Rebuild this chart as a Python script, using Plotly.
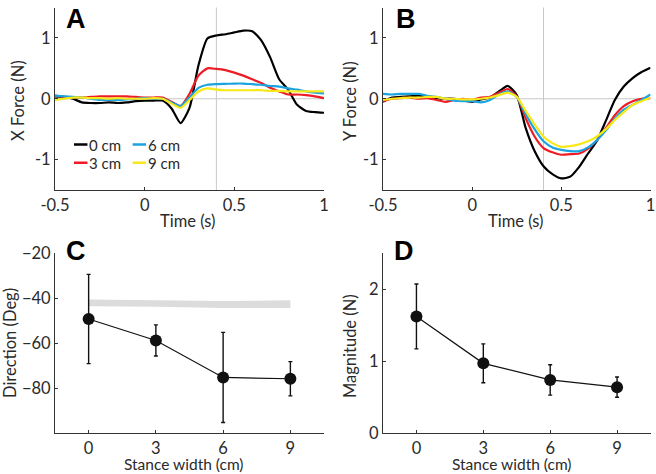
import plotly.graph_objects as go

# ---------------- data ----------------
time_s = [-0.5, -0.45, -0.4, -0.35, -0.3, -0.25, -0.2, -0.15, -0.1, -0.05, 0.0,
          0.05, 0.1, 0.15, 0.2, 0.25, 0.3, 0.35, 0.4, 0.45, 0.5, 0.55, 0.6,
          0.65, 0.7, 0.75, 0.8, 0.85, 0.9, 0.95, 1.0]

stance_labels = ["0 cm", "3 cm", "6 cm", "9 cm"]

xforce_0cm = [0.04, 0.03, 0.0, -0.06, -0.07, -0.07, -0.06, -0.07, -0.06, -0.04, -0.03,
              -0.03, -0.03, -0.16, -0.40, -0.15, 0.55, 0.99, 1.04, 1.06, 1.09, 1.12, 1.11,
              0.96, 0.68, 0.32, 0.15, -0.10, -0.20, -0.22, -0.23]
xforce_3cm = [0.05, 0.03, 0.02, 0.02, 0.03, 0.04, 0.04, 0.04, 0.04, 0.03, 0.02,
              0.02, 0.02, -0.05, -0.12, 0.08, 0.38, 0.50, 0.49, 0.47, 0.43, 0.38, 0.32,
              0.26, 0.18, 0.12, 0.07, 0.07, 0.06, 0.04, 0.01]
xforce_6cm = [0.05, 0.04, 0.03, 0.02, 0.0, -0.02, -0.02, -0.02, -0.01, 0.0, 0.01,
              0.0, 0.0, -0.06, -0.12, 0.02, 0.18, 0.23, 0.24, 0.245, 0.25, 0.25, 0.24,
              0.23, 0.21, 0.20, 0.17, 0.15, 0.12, 0.10, 0.09]
xforce_9cm = [-0.02, 0.0, 0.02, 0.02, 0.01, 0.01, 0.0, 0.01, 0.0, 0.0, 0.0,
              0.01, 0.0, -0.08, -0.15, -0.02, 0.12, 0.17, 0.15, 0.14, 0.14, 0.14, 0.14,
              0.14, 0.13, 0.13, 0.12, 0.12, 0.12, 0.12, 0.12]

yforce_0cm = [-0.05, 0.02, 0.03, 0.04, 0.05, 0.03, 0.01, 0.0, 0.0, -0.03, -0.05,
              -0.01, 0.02, 0.12, 0.21, 0.06, -0.48, -0.86, -1.11, -1.24, -1.31, -1.28, -1.12,
              -0.90, -0.69, -0.36, -0.02, 0.20, 0.34, 0.44, 0.51]
yforce_3cm = [-0.04, 0.0, 0.01, 0.02, 0.0, 0.01, -0.02, -0.05, -0.02, 0.0, -0.02,
              0.02, 0.03, 0.10, 0.16, 0.04, -0.32, -0.62, -0.81, -0.88, -0.92, -0.91, -0.90,
              -0.82, -0.68, -0.48, -0.27, -0.12, -0.04, 0.0, 0.01]
yforce_6cm = [0.08, 0.07, 0.08, 0.08, 0.08, 0.05, 0.03, 0.0, -0.03, -0.04, -0.04,
              -0.06, -0.02, 0.07, 0.12, 0.03, -0.25, -0.50, -0.70, -0.80, -0.84, -0.86, -0.86,
              -0.80, -0.68, -0.52, -0.33, -0.18, -0.10, -0.02, 0.07]
yforce_9cm = [-0.02, 0.0, 0.01, 0.02, 0.02, 0.03, 0.03, 0.0, 0.0, -0.01, -0.01,
              0.0, 0.02, 0.06, 0.10, 0.03, -0.20, -0.42, -0.62, -0.73, -0.79, -0.78, -0.75,
              -0.70, -0.62, -0.50, -0.35, -0.22, -0.10, -0.04, 0.02]

stance_width = [0, 3, 6, 9]
direction_mean = [-49.3, -58.8, -75.2, -75.8]
direction_err = [19.8, 6.9, 20.0, 7.6]
band_upper = [-40.6, -40.8, -41.3, -41.0]
band_lower = [-43.6, -43.8, -44.4, -44.4]
magnitude_mean = [1.62, 0.97, 0.74, 0.64]
magnitude_err = [0.45, 0.27, 0.21, 0.14]

event_time = 0.4

# ---------------- styles ----------------
colors = ["#000000", "#ee1c24", "#1aa3de", "#f7e81a"]
FONT = "Lato"
TXT = "#2a2a2a"
AX = "#333333"
W, H = 656, 474

def px_x(p):
    return p / W

def px_y(p):
    return 1 - p / H

fig = go.Figure()

# panel domains
dA_x = [px_x(55), px_x(324)]
dB_x = [px_x(383), px_x(650.5)]
dTop_y = [px_y(190), px_y(7.5)]
dBot_y = [px_y(433.3), px_y(253)]

axis_common = dict(
    showline=True, linecolor=AX, linewidth=1.2, ticks="inside", ticklen=3,
    tickcolor=AX, showgrid=False, zeroline=False, mirror=False, automargin=False,
    ticklabeloverflow="allow",
    tickfont=dict(family=FONT, size=16.5, color=TXT),
)

fig.update_layout(
    width=W, height=H, margin=dict(l=0, r=0, t=0, b=0, autoexpand=False),
    paper_bgcolor="white", plot_bgcolor="white", showlegend=False,
    xaxis=dict(domain=dA_x, anchor="y", range=[-0.5, 1], tickvals=[-0.5, 0, 0.5, 1],
               ticktext=["-0.5", "0", "0.5", "1"], **axis_common),
    yaxis=dict(domain=dTop_y, anchor="x", range=[-1.5, 1.5], tickvals=[-1, 0, 1],
               ticktext=["-1", "0", "1"], **axis_common),
    xaxis2=dict(domain=dB_x, anchor="y2", range=[-0.5, 1], tickvals=[-0.5, 0, 0.5, 1],
                ticktext=["-0.5", "0", "0.5", "1"], **axis_common),
    yaxis2=dict(domain=dTop_y, anchor="x2", range=[-1.5, 1.5], tickvals=[-1, 0, 1],
                ticktext=["-1", "0", "1"], **axis_common),
    xaxis3=dict(domain=dA_x, anchor="y3", range=[-1.5, 10.5], tickvals=stance_width, **axis_common),
    yaxis3=dict(domain=dBot_y, anchor="x3", range=[-100, -20], tickvals=[-80, -60, -40, -20],
                **axis_common),
    xaxis4=dict(domain=dB_x, anchor="y4", range=[-1.5, 10.5], tickvals=stance_width, **axis_common),
    yaxis4=dict(domain=dBot_y, anchor="x4", range=[0, 2.5], tickvals=[0, 1, 2], **axis_common),
)

# axis titles as annotations (pixel positions)
titles = [
    ("Time (s)", 188, 221, 0, 16.5), ("X Force (N)", 18, 101, -90, 16.5),
    ("Time (s)", 515, 221, 0, 16.5), ("Y Force (N)", 350, 101, -90, 16.5),
    ("Stance width (cm)", 184, 464, 0, 15.5), ("Direction (Deg)", 10, 343, -90, 16.5),
    ("Stance width (cm)", 512, 464, 0, 15.5), ("Magnitude (N)", 350, 346, -90, 16.5),
]
for txt, xp, yp, ang, fs in titles:
    fig.add_annotation(xref="paper", yref="paper", x=px_x(xp), y=px_y(yp), text=txt,
                       showarrow=False, xanchor="center", yanchor="middle", textangle=ang,
                       font=dict(family=FONT, size=fs, color=TXT))

# reference gray lines in A and B
for xr, yr in [("x", "y"), ("x2", "y2")]:
    fig.add_shape(type="line", xref=xr, yref=yr, x0=-0.5, x1=1, y0=0, y1=0,
                  line=dict(color="#c8c8c8", width=1), layer="below")
    fig.add_shape(type="line", xref=xr, yref=yr + " domain", x0=event_time, x1=event_time,
                  y0=0, y1=1, line=dict(color="#c8c8c8", width=1), layer="below")

xs = [xforce_0cm, xforce_3cm, xforce_6cm, xforce_9cm]
ys = [yforce_0cm, yforce_3cm, yforce_6cm, yforce_9cm]
for i, lab in enumerate(stance_labels):
    fig.add_trace(go.Scatter(x=time_s, y=xs[i], mode="lines", name=lab,
                             line=dict(color=colors[i], width=2.2, shape="spline", smoothing=0.6),
                             xaxis="x", yaxis="y"))
for i, lab in enumerate(stance_labels):
    fig.add_trace(go.Scatter(x=time_s, y=ys[i], mode="lines", name=lab,
                             line=dict(color=colors[i], width=2.2, shape="spline", smoothing=0.6),
                             xaxis="x2", yaxis="y2"))

# gray band in C
fig.add_trace(go.Scatter(x=stance_width + stance_width[::-1],
                         y=band_upper + band_lower[::-1], mode="lines", fill="toself",
                         fillcolor="#dcdcdc", line=dict(width=0, color="#dcdcdc"),
                         xaxis="x3", yaxis="y3"))

fig.add_trace(go.Scatter(x=stance_width, y=direction_mean, mode="lines+markers",
                         line=dict(color="#111111", width=1.2),
                         marker=dict(color="#111111", size=12),
                         error_y=dict(type="data", array=direction_err, color="#111111",
                                      thickness=1.4, width=2),
                         xaxis="x3", yaxis="y3"))
fig.add_trace(go.Scatter(x=stance_width, y=magnitude_mean, mode="lines+markers",
                         line=dict(color="#111111", width=1.2),
                         marker=dict(color="#111111", size=12),
                         error_y=dict(type="data", array=magnitude_err, color="#111111",
                                      thickness=1.4, width=2),
                         xaxis="x4", yaxis="y4"))

# manual legend in panel A (2 x 2, column-major)
leg_pos = [(0, 0), (0, 1), (1, 0), (1, 1)]  # (col, row) for 0,3,6,9
col_x = [-0.394, -0.067]
row_y = [-0.754, -1.05]
for i, lab in enumerate(stance_labels):
    c, r = leg_pos[i]
    x0 = col_x[c]
    fig.add_shape(type="line", xref="x", yref="y", x0=x0, x1=x0 + 0.075, y0=row_y[r], y1=row_y[r],
                  line=dict(color=colors[i], width=2.5))
    fig.add_annotation(xref="x", yref="y", x=x0 + 0.075, y=row_y[r], text=lab, showarrow=False,
                       xanchor="left", yanchor="middle", xshift=0,
                       font=dict(family=FONT, size=15, color=TXT))

# panel letters
for letter, xp, yp in [("A", 76, 19), ("B", 406, 19), ("C", 76, 251), ("D", 404, 251)]:
    fig.add_annotation(xref="paper", yref="paper", x=px_x(xp), y=px_y(yp), text=letter,
                       showarrow=False, xanchor="center", yanchor="middle",
                       font=dict(family="Liberation Sans", size=27, color="#000000", weight="bold"))

fig.write_html("out.html", config={"displayModeBar": False},
               post_script="document.body.style.margin='0';")
